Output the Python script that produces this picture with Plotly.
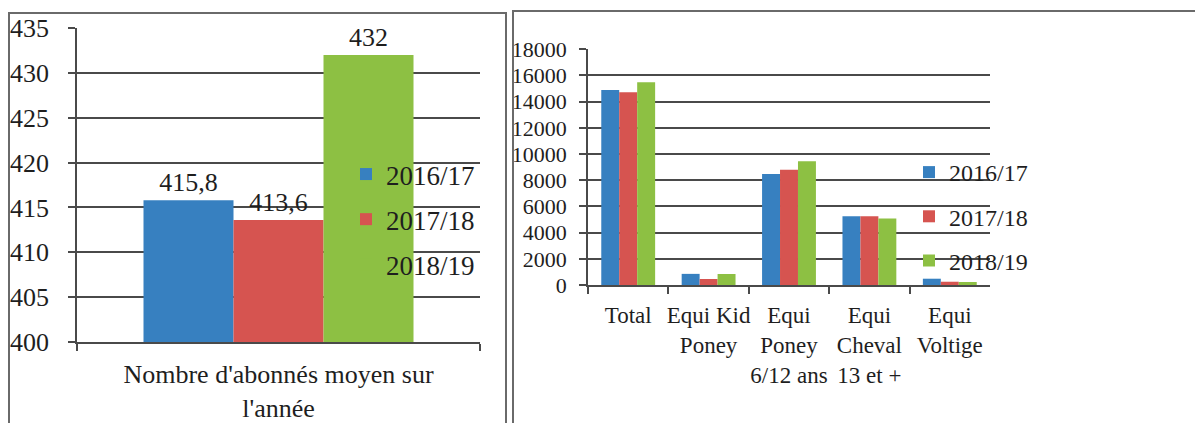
import plotly.graph_objects as go

W, H = 1203, 423
OFF = 8  # page body margin offset of the figure on screen

seasons = ["2016/17", "2017/18", "2018/19"]
colors = ["#3780c0", "#d65450", "#8dc043"]

# Left chart
left_category = ["Nombre d'abonnés moyen sur<br>l'année"]
left_values = [415.8, 413.6, 432]

# Right chart
right_categories = ["Total", "Equi Kid<br>Poney", "Equi<br>Poney<br>6/12 ans",
                    "Equi<br>Cheval<br>13 et +", "Equi<br>Voltige"]
s2016 = [14900, 850, 8470, 5250, 480]
s2017 = [14720, 460, 8810, 5250, 250]
s2018 = [15490, 840, 9450, 5070, 230]
right_series = [s2016, s2017, s2018]

FONT = "Liberation Serif"
TXT = "#1e1e1e"
GRID = "#4a4a4a"


def fx(p):
    return (p - OFF) / W


def fy(p):
    return 1 - (p - OFF) / H


fig = go.Figure()

for i, s in enumerate(seasons):
    v = left_values[i]
    fig.add_trace(go.Bar(
        x=left_category, y=[v], name=s, marker_color=colors[i],
        marker_line_width=0,
        text=[f"{v:g}".replace(".", ",")], textposition="outside",
        textfont=dict(family=FONT, size=26, color=TXT), cliponaxis=False,
        xaxis="x", yaxis="y", legend="legend", legendgroup="L" + s,
    ))

for i, s in enumerate(seasons):
    fig.add_trace(go.Bar(
        x=right_categories, y=right_series[i], name=s, marker_color=colors[i],
        marker_line_width=0,
        xaxis="x2", yaxis="y2", legend="legend2", legendgroup="R" + s,
    ))

axis_common = dict(showline=True, linecolor=GRID, linewidth=1.5,
                   ticks="outside", tickcolor=GRID, ticklen=7, tickwidth=1.5,
                   automargin=False)

fig.update_layout(
    width=W, height=H, margin=dict(l=0, r=0, t=0, b=0, autoexpand=False),
    paper_bgcolor="white", plot_bgcolor="white",
    barmode="group", bargap=0.33, bargroupgap=0,
    font=dict(family=FONT, color=TXT),
    xaxis=dict(domain=[fx(77), fx(480)], anchor="y", type="category",
               tickson="boundaries", tickfont=dict(size=26), tickangle=0,
               ticklabelstandoff=8, **axis_common),
    yaxis=dict(domain=[fy(342), fy(28)], anchor="x", range=[400, 435],
               dtick=5, showgrid=True, gridcolor=GRID, gridwidth=1.5,
               tickfont=dict(size=26), ticklabelstandoff=14, **axis_common),
    xaxis2=dict(domain=[fx(588), fx(990)], anchor="y2", type="category",
                tickson="boundaries", tickfont=dict(size=23), tickangle=0,
                ticklabelstandoff=9, **axis_common),
    yaxis2=dict(domain=[fy(285), fy(49.3)], anchor="x2", range=[0, 18000],
                dtick=2000, tickformat="d", showgrid=True, gridcolor=GRID,
                gridwidth=1.5, tickfont=dict(size=22), ticklabelstandoff=8,
                **axis_common),
    legend=dict(x=fx(346), y=fy(150), xanchor="left", yanchor="top",
                bgcolor="rgba(0,0,0,0)", font=dict(size=27, family=FONT),
                tracegroupgap=7, itemwidth=30),
    legend2=dict(x=fx(909), y=fy(150), xanchor="left", yanchor="top",
                 bgcolor="rgba(0,0,0,0)", font=dict(size=24, family=FONT),
                 tracegroupgap=10, itemwidth=30),
    shapes=[
        dict(type="rect", xref="paper", yref="paper",
             x0=fx(9), x1=fx(506), y0=-0.05, y1=fy(13),
             line=dict(color="#6a6a6a", width=2)),
        dict(type="rect", xref="paper", yref="paper",
             x0=fx(513), x1=1.05, y0=-0.05, y1=fy(11),
             line=dict(color="#6a6a6a", width=2)),
    ],
)

fig.write_html("out.html")
